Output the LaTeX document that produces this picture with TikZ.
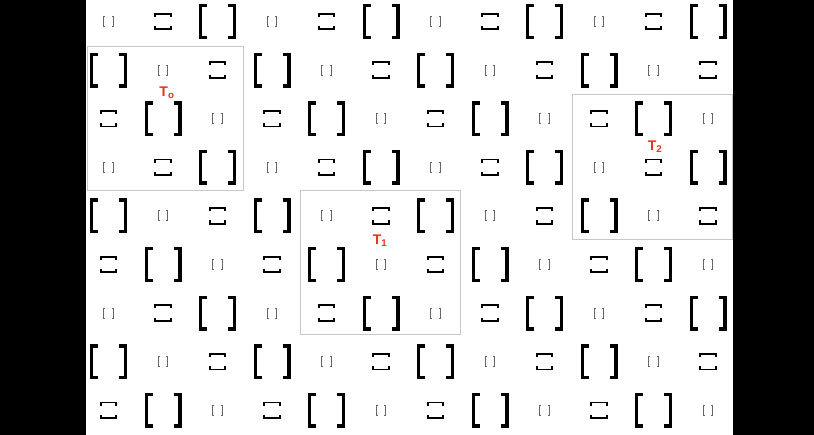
\documentclass[tikz,border=0pt]{standalone}
\usepackage{fontspec}
\newfontfamily\labelfont{Liberation Sans}
\definecolor{labelred}{HTML}{E8341C}
\begin{document}
\begin{tikzpicture}[x=1pt,y=-1pt,
        tilebox/.style={draw=black!22,line width=1pt},
        tlabel/.style={text=labelred,inner sep=0pt,
            font=\labelfont\bfseries\fontsize{14}{14}\selectfont}]
        \useasboundingbox (0,0) rectangle (814,435);
        \fill[black] (0,0) rectangle (814,435);
        \fill[white] (86,0) rectangle (733,435);

        % the texture: three bracket pairs, shifted by one column on each row
        \foreach \r in {0,...,8} {
            \foreach \c in {0,...,11} {
                \pgfmathsetmacro{\px}{108.5+54.5*\c}
                \pgfmathsetmacro{\py}{21.5+48.6*\r}
                \pgfmathtruncatemacro{\kind}{mod(\c-\r+9,3)}
                \ifcase\kind
                    % small
                    \draw[shift={(\px,\py)},black!60,line width=1.1pt]
                        (-3.3,-5) -- (-4.8,-5) -- (-4.8,5) -- (-3.3,5)
                        (3.3,-5) -- (4.8,-5) -- (4.8,5) -- (3.3,5);
                \or
                    % medium, turned
                    \draw[shift={(\px,\py)},line width=1.8pt]
                        (-7.8,-4.6) -- (-7.8,-7.8) -- (7.8,-7.8) -- (7.8,-4.6)
                        (-7.8,4.6) -- (-7.8,7.8) -- (7.8,7.8) -- (7.8,4.6);
                \or
                    % large
                    \draw[shift={(\px,\py)},line width=3.4pt]
                        (-10.5,-15.8) -- (-16.8,-15.8) -- (-16.8,15.8) -- (-10.5,15.8)
                        (10.5,-15.8) -- (16.8,-15.8) -- (16.8,15.8) -- (10.5,15.8);
                \fi
            }
        }

        \draw[tilebox] (87,47) rectangle (243,191);
        \draw[tilebox] (300,191) rectangle (460,335);
        \draw[tilebox] (572,95) rectangle (732,240);

        \node[tlabel] (t0) at (167,93) {T\textsubscript{o}};
        \node[tlabel] (t1) at (380,241) {T\textsubscript{1}};
        \node[tlabel] (t2) at (655,147) {T\textsubscript{2}};
    \end{tikzpicture}
\end{document}
